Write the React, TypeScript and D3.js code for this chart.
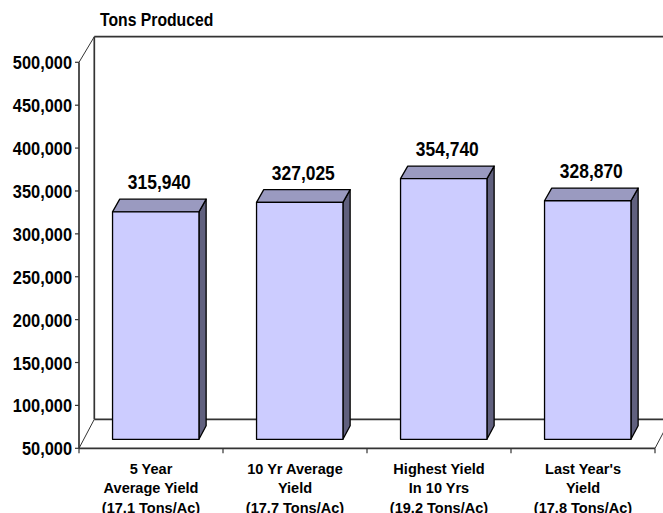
import * as d3 from 'd3';

// chart data
const categories = ['5yr', '10yr', 'high', 'last'];
const categoryLabels = [
  ['5 Year', 'Average Yield', '(17.1 Tons/Ac)'],
  ['10 Yr Average', 'Yield', '(17.7 Tons/Ac)'],
  ['Highest Yield', 'In 10 Yrs', '(19.2 Tons/Ac)'],
  ["Last Year's", 'Yield', '(17.8 Tons/Ac)'],
];
const tonsProduced = [315940, 327025, 354740, 328870];
const yTicks = [50000, 100000, 150000, 200000, 250000, 300000, 350000, 400000, 450000, 500000];

const W = 663;
const H = 513;
const FONT = '"Liberation Sans", Arial, sans-serif';

// front plane and back wall of the 3d box
const DEPTH_X = 15.3;
const yFront = d3.scaleLinear().domain([50000, 500000]).range([448.3, 62.3]);
const yBack = d3.scaleLinear().domain([50000, 500000]).range([419.3, 36.7]);
const x = d3.scaleBand().domain(categories).range([79, 655]);
const xBar = d3.scaleBand().domain(categories).range([79, 655]).paddingInner(0.4).paddingOuter(0.2);

// position inside the depth (t = 0 front, 1 back wall)
const px = (xv: number, t: number) => xv + DEPTH_X * t;
const py = (v: number, t: number) => yFront(v) * (1 - t) + yBack(v) * t;

const T1 = 0.31; // bar front face
const T2 = 0.78; // bar back face

const LINE = '#333';
const fmt = d3.format(',');

// bold text, squeezed horizontally like the original (which uses a narrow face)
function Label(props: {
  x: number;
  y: number;
  size: number;
  sx?: number;
  anchor?: 'start' | 'middle' | 'end';
  children: string;
}) {
  const { x, y, size, sx = 1, anchor = 'start', children } = props;
  return (
    <text
      transform={`translate(${x},${y}) scale(${sx},1)`}
      textAnchor={anchor}
      fontFamily={FONT}
      fontWeight="bold"
      fontSize={size}
      fill="#000"
      stroke="none"
    >
      {children}
    </text>
  );
}

export default function App() {
  const x0 = x.range()[0];
  const x1 = x.range()[1];
  const vMin = yFront.domain()[0];
  const vMax = yFront.domain()[1];

  return (
    <div style={{ position: 'absolute', left: 0, top: 0 }}>
      <svg width={W} height={H} style={{ display: 'block', background: '#fff' }}>
        <Label x={100} y={26} size={17.5} sx={0.9}>
          Tons Produced
        </Label>

        {/* back wall + floor */}
        <g stroke={LINE} strokeWidth={1.7} fill="none">
          <line x1={px(x0, 1)} y1={py(vMin, 1)} x2={px(x0, 1)} y2={py(vMax, 1)} />
          <line x1={px(x0, 1)} y1={py(vMax, 1)} x2={W + 20} y2={py(vMax, 1)} />
          <line x1={px(x0, 1)} y1={py(vMin, 1)} x2={W + 20} y2={py(vMin, 1)} />
          <line x1={px(x0, 0)} y1={py(vMax, 0)} x2={px(x0, 1)} y2={py(vMax, 1)} strokeWidth={1} />
          <line x1={px(x0, 0)} y1={py(vMin, 0)} x2={px(x0, 1)} y2={py(vMin, 1)} strokeWidth={1} />
          <line x1={px(x1, 0)} y1={py(vMin, 0)} x2={px(x1, 1)} y2={py(vMin, 1)} strokeWidth={1} />
        </g>

        {/* bars */}
        {tonsProduced.map((v, i) => {
          const c = categories[i];
          const bx = xBar(c)!;
          const bw = xBar.bandwidth();
          const fl = px(bx, T1);
          const fr = px(bx + bw, T1);
          const bl = px(bx, T2);
          const br = px(bx + bw, T2);
          const ft = py(v, T1);
          const fb = py(vMin, T1);
          const bt = py(v, T2);
          const bb = py(vMin, T2);
          const tm = (T1 + T2) / 2;
          return (
            <g key={c} stroke="#000" strokeWidth={1.3} strokeLinejoin="round">
              <polygon points={`${fr},${ft} ${br},${bt} ${br},${bb} ${fr},${fb}`} fill="#60607e" />
              <polygon points={`${fl},${ft} ${bl},${bt} ${br},${bt} ${fr},${ft}`} fill="#9a9ac0" />
              <rect x={fl} y={ft} width={fr - fl} height={fb - ft} fill="#ccccff" />
              <Label x={(px(bx, tm) + px(bx + bw, tm)) / 2} y={bt - 10} size={20.5} sx={0.85} anchor="middle">
                {fmt(v)}
              </Label>
            </g>
          );
        })}

        {/* front axis lines */}
        <g stroke={LINE} strokeWidth={1.7}>
          <line x1={x0} y1={yFront(vMin)} x2={x0} y2={yFront(vMax)} />
          <line x1={x0} y1={yFront(vMin)} x2={x1} y2={yFront(vMin)} />
          {yTicks.map((t) => (
            <line key={t} x1={x0 - 4} y1={yFront(t)} x2={x0} y2={yFront(t)} strokeWidth={1.2} />
          ))}
          {[...categories.map((c) => x(c)!), x1].map((xv, i) => (
            <line key={i} x1={xv} y1={yFront(vMin)} x2={xv} y2={yFront(vMin) + 5} strokeWidth={1.2} />
          ))}
        </g>

        {/* y tick labels */}
        {yTicks.map((t) => (
          <Label key={t} x={72} y={yFront(t) + 7} size={18} sx={0.91} anchor="end">
            {fmt(t)}
          </Label>
        ))}

        {/* category labels */}
        {categories.map((c, i) =>
          categoryLabels[i].map((line, j) => (
            <Label
              key={c + j}
              x={x(c)! + x.bandwidth() / 2}
              y={473.5 + j * 19.5}
              size={15}
              sx={0.97}
              anchor="middle"
            >
              {line}
            </Label>
          ))
        )}
      </svg>
    </div>
  );
}
